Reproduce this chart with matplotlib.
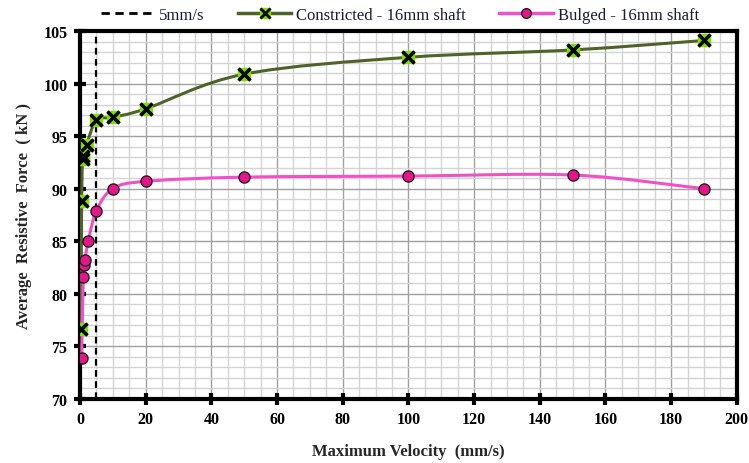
import numpy as np
import matplotlib
matplotlib.use("Agg")
import matplotlib.pyplot as plt
from matplotlib.path import Path
from matplotlib.patches import PathPatch
from matplotlib.lines import Line2D
from matplotlib.ticker import MultipleLocator

# data
constricted_v = [0.3, 0.5, 0.8, 1, 2, 5, 10, 20, 50, 100, 150, 190]
constricted_f = [76.7, 88.8, 92.8, 93.1, 94.2, 96.5, 96.8, 97.6, 100.9, 102.5, 103.2, 104.1]

bulged_v = [0.5, 1, 1.2, 1.5, 2.5, 5, 10, 20, 50, 100, 150, 190]
bulged_f = [73.9, 81.6, 82.7, 83.2, 85.0, 87.9, 90.0, 90.7, 91.1, 91.2, 91.3, 90.0]

ref_speed = 5

plt.rcParams['font.family'] = ['Liberation Serif', 'DejaVu Serif']


def smooth_path(xs, ys):
    # Excel-style smoothed line as cubic bezier segments
    pts = np.column_stack([xs, ys])
    n = len(pts)
    verts = [pts[0]]
    codes = [Path.MOVETO]
    for i in range(n - 1):
        p0 = pts[i - 1] if i > 0 else pts[i]
        p1 = pts[i]
        p2 = pts[i + 1]
        p3 = pts[i + 2] if i + 2 < n else pts[i + 1]
        c1 = p1 + (p2 - p0) / 6.0
        c2 = p2 - (p3 - p1) / 6.0
        verts += [c1, c2, p2]
        codes += [Path.CURVE4] * 3
    return Path(verts, codes)


fig = plt.figure(figsize=(7.49, 4.64), dpi=100)
ax = fig.add_axes([0.1068, 0.138, 0.877, 0.793])

green_line = '#4f6228'
green_fill = '#7fe000'
pink_line = '#f050c8'
pink_fill = '#e8158a'

ax.add_patch(PathPatch(smooth_path(constricted_v, constricted_f), fill=False,
                       edgecolor=green_line, lw=2.2, zorder=3))
ax.add_patch(PathPatch(smooth_path(bulged_v, bulged_f), fill=False,
                       edgecolor=pink_line, lw=2.2, zorder=3))

ax.axvline(ref_speed, color='black', ls=(0, (3, 2)), lw=1.6, zorder=2)

ax.plot(constricted_v, constricted_f, ls='none', marker='s', ms=8,
        mfc=green_fill, mec=green_fill, zorder=4)
ax.plot(constricted_v, constricted_f, ls='none', marker='x', ms=8,
        mew=2.5, color='black', zorder=5)
ax.plot(bulged_v, bulged_f, ls='none', marker='o', ms=8,
        mfc=pink_fill, mec='#202020', mew=1, zorder=4)

ax.set_xlim(0, 200)
ax.set_ylim(70, 105)
ax.xaxis.set_major_locator(MultipleLocator(20))
ax.xaxis.set_minor_locator(MultipleLocator(5))
ax.yaxis.set_major_locator(MultipleLocator(5))
ax.yaxis.set_minor_locator(MultipleLocator(1))

ax.grid(which='major', color='#a0a0a0', lw=1.0, zorder=0)
ax.grid(which='minor', color='#d4d4d4', lw=1.0, zorder=0)
ax.set_axisbelow(True)

for s in ax.spines.values():
    s.set_linewidth(3)
    s.set_color('black')

ax.tick_params(which='major', direction='inout', length=8, width=3,
               labelsize=11.5, pad=5)
ax.tick_params(which='minor', length=0)
for lab in ax.get_xticklabels() + ax.get_yticklabels():
    lab.set_fontweight('bold')

ax.set_xlabel("Maximum Velocity  (mm/s)", fontsize=12, fontweight='bold',
              labelpad=11, color='#262626')
ax.set_ylabel("Average  Resistive  Force  ( kN )", fontsize=12,
              fontweight='bold', labelpad=8, color='#262626')

h_ref = Line2D([], [], color='black', ls=(0, (3, 2)), lw=2)
h_con_line = Line2D([], [], color=green_line, lw=2.5, marker='s', ms=7,
                    mfc=green_fill, mec=green_fill)
h_con_x = Line2D([], [], ls='none', marker='x', ms=7, mew=2, color='black')
h_bul = Line2D([], [], color=pink_line, lw=2.5, marker='o', ms=7,
               mfc=pink_fill, mec='#202020')
fig.legend([h_ref, (h_con_line, h_con_x), h_bul],
           ["5mm/s", "Constricted - 16mm shaft", "Bulged - 16mm shaft"],
           loc='upper center', bbox_to_anchor=(0.534, 1.015), ncol=3,
           frameon=False, fontsize=12, handlelength=3.2, columnspacing=2.0,
           handletextpad=0.3, labelcolor='#1a1a3a')

fig.savefig("out.png", dpi=100)
